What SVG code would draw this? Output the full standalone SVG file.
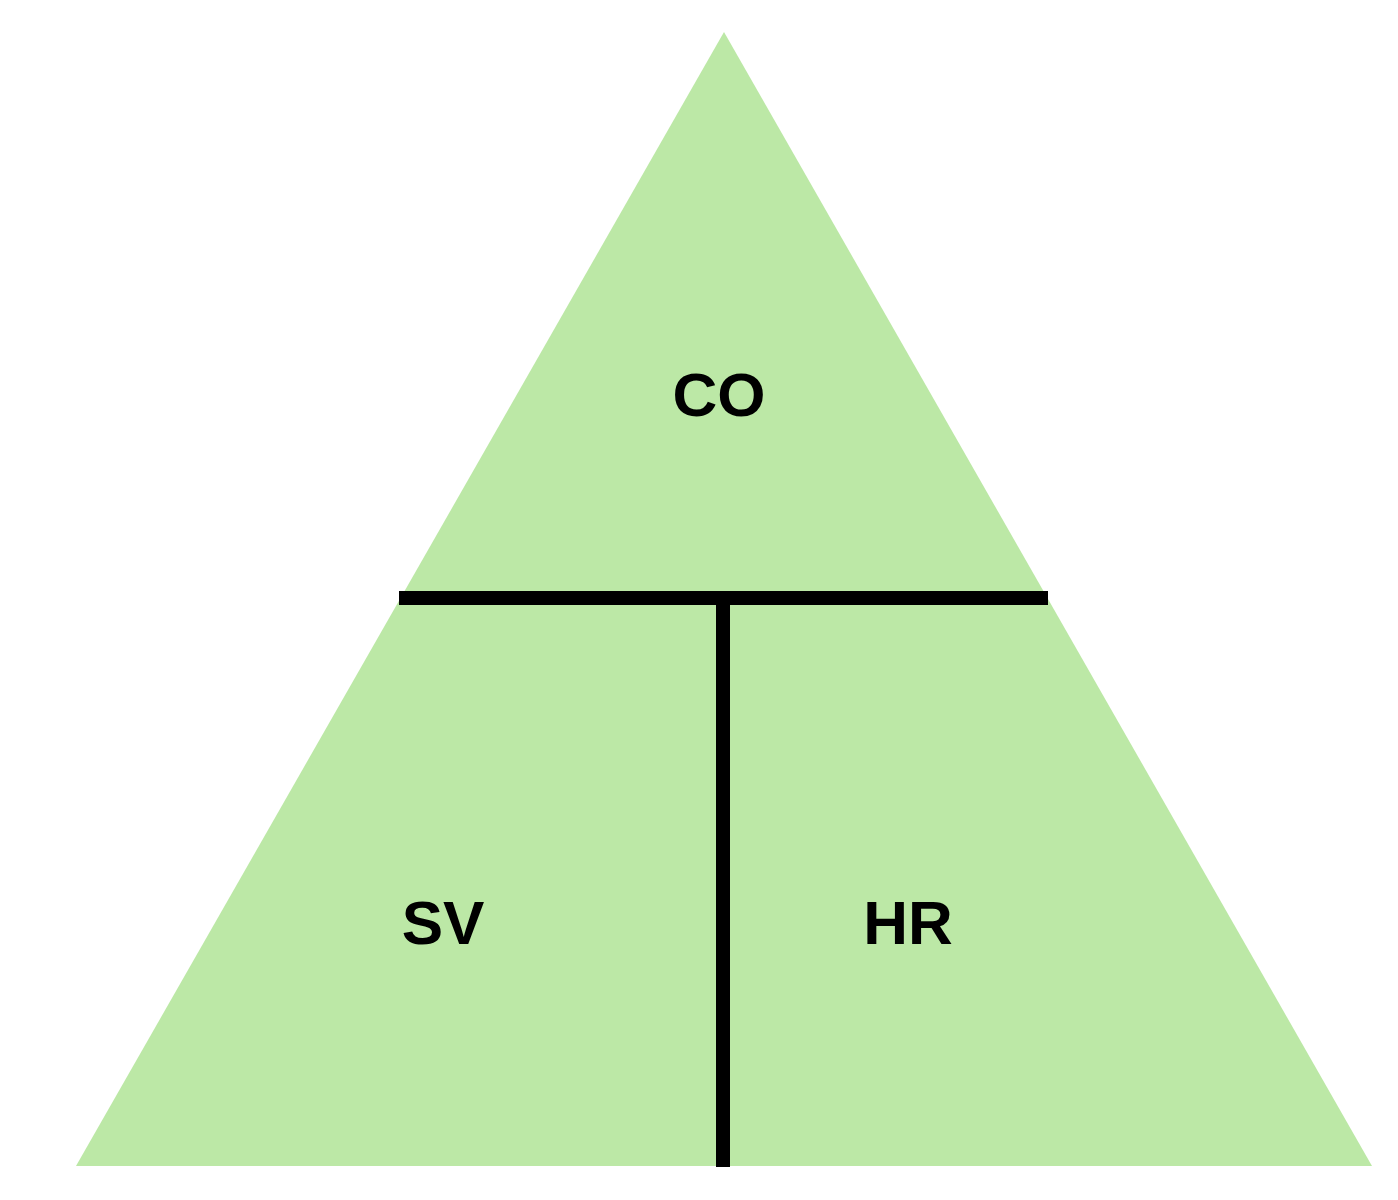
<svg xmlns="http://www.w3.org/2000/svg" width="1398" height="1200" viewBox="0 0 1398 1200">
<style>
.lbl{font-family:"Liberation Sans",Arial,sans-serif;font-weight:bold;font-size:62px;fill:#000;text-anchor:middle}
.ln{stroke:#000;stroke-width:14;fill:none}
</style>
<rect width="1398" height="1200" fill="#fff"/>
<g id="triangle">
<polygon points="724,32 76,1166 1372,1166" fill="#bce8a6"/>
</g>
<g id="connectors">
<line class="ln" x1="399" y1="598" x2="1048" y2="598"/>
<line class="ln" x1="723" y1="598" x2="723" y2="1167"/>
</g>
<g id="node-co"><text class="lbl" x="719" y="416">CO</text></g>
<g id="node-sv"><text class="lbl" x="443" y="944">SV</text></g>
<g id="node-hr"><text class="lbl" x="908" y="944">HR</text></g>
</svg>
